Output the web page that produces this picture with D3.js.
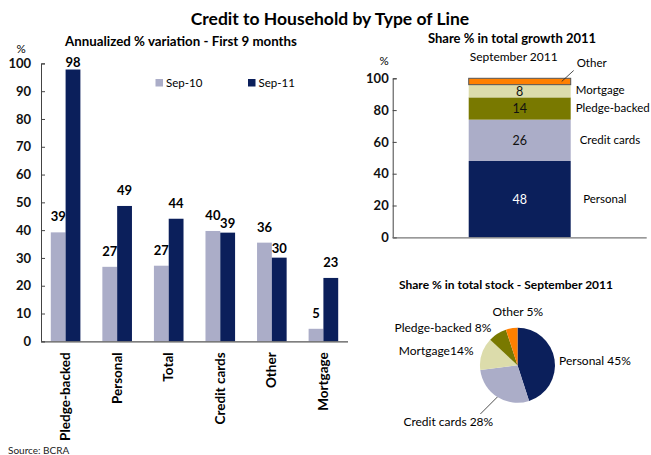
<!DOCTYPE html>
<html>
<head>
<meta charset="utf-8">
<script src="https://cdn.jsdelivr.net/npm/d3@7"></script>
<style>
  html, body { margin: 0; padding: 0; background: #fff; }
  svg { display: block; font-family: Lato, "Open Sans", sans-serif; }
  .tick line { stroke: #444; }
  .domain { stroke: #444; }
</style>
</head>
<body>
<svg id="chart" width="651" height="455"></svg>
<script>
// ---- data ----
const categories = ["Pledge-backed", "Personal", "Total", "Credit cards", "Other", "Mortgage"];
const seriesNames = ["Sep-10", "Sep-11"];
const sep10 = [39.2, 26.8, 27.2, 39.7, 35.5, 4.5];
const sep11 = [97.8, 48.7, 44.1, 39.1, 30.1, 22.8];
const barTicks = [0, 10, 20, 30, 40, 50, 60, 70, 80, 90, 100];

const growthKeys = ["Personal", "Credit cards", "Pledge-backed", "Mortgage", "Other"];
const growthShares = [48, 26, 14, 8, 4];
const growthTicks = [0, 20, 40, 60, 80, 100];

const stockKeys = ["Personal", "Credit cards", "Mortgage", "Pledge-backed", "Other"];
const stockShares = [45, 28, 14, 8, 5];

// ---- colours ----
const seriesColor = { "Sep-10": "#abadc8", "Sep-11": "#0b1f5b" };
const lineColor = {
  "Personal": "#0b1f5b",
  "Credit cards": "#abadc8",
  "Pledge-backed": "#797900",
  "Mortgage": "#dcdcab",
  "Other": "#ff8000"
};

const svg = d3.select("#chart");
const fmt = d3.format(".0f");

// main title
svg.append("text")
  .attr("x", 330).attr("y", 25)
  .attr("text-anchor", "middle")
  .attr("font-size", 17.5).attr("font-weight", 700)
  .text("Credit to Household by Type of Line");

// ================= left: grouped bars =================
const L = { left: 41, right: 348, top: 63.4, bottom: 341.3 };
const x0 = d3.scaleBand().domain(categories).range([L.left, L.right])
  .paddingInner(0.426).paddingOuter(0.19);
const x1 = d3.scaleBand().domain(seriesNames).range([0, x0.bandwidth()]);
const yL = d3.scaleLinear().domain([0, 100]).range([L.bottom, L.top]);

const left = svg.append("g");

left.append("text")
  .attr("x", 181).attr("y", 46)
  .attr("text-anchor", "middle")
  .attr("font-size", 13.3).attr("font-weight", 700)
  .text("Annualized % variation - First 9 months");

left.append("text")
  .attr("x", 21).attr("y", 53)
  .attr("text-anchor", "middle")
  .attr("font-size", 11.5)
  .text("%");

const yAxisL = left.append("g")
  .attr("transform", `translate(${L.left},0)`)
  .call(d3.axisLeft(yL).tickValues(barTicks).tickSizeInner(-4).tickSizeOuter(-4).tickPadding(10));
yAxisL.selectAll("text").attr("font-size", 13).attr("font-weight", 700).attr("fill", "#111")
  .style("font-family", "Lato, sans-serif");

const rows = categories.map((c, i) => ({ cat: c, values: [
  { key: "Sep-10", value: sep10[i] },
  { key: "Sep-11", value: sep11[i] }
]}));

const groups = left.selectAll("g.grp").data(rows).join("g")
  .attr("class", "grp")
  .attr("transform", d => `translate(${x0(d.cat)},0)`);

groups.selectAll("rect").data(d => d.values).join("rect")
  .attr("x", d => x1(d.key))
  .attr("width", x1.bandwidth())
  .attr("y", d => yL(d.value))
  .attr("height", d => yL(0) - yL(d.value))
  .attr("fill", d => seriesColor[d.key]);

// value labels; the darker bar's label drops lower when it sits beside a taller light bar
groups.selectAll("text.val").data(d => d.values.map(v => ({ ...v, other: d.values })))
  .join("text")
  .attr("class", "val")
  .attr("x", d => x1(d.key) + x1.bandwidth() / 2)
  .attr("y", d => {
    const lower = d.key === "Sep-11" && d.value < d.other[0].value;
    return Math.max(yL(d.value) - (lower ? 5 : 11), yL(100) + 4);
  })
  .attr("text-anchor", "middle")
  .attr("font-size", 13).attr("font-weight", 700)
  .text(d => fmt(d.value));

// baseline
left.append("line")
  .attr("x1", L.left).attr("x2", L.right)
  .attr("y1", yL(0) + 0.5).attr("y2", yL(0) + 0.5)
  .attr("stroke", "#555").attr("stroke-width", 1.2);

// category labels (vertical)
left.selectAll("text.cat").data(categories).join("text")
  .attr("class", "cat")
  .attr("transform", d => `translate(${x0(d) + x0.bandwidth() / 2 + 4.5},${L.bottom + 11}) rotate(-90)`)
  .attr("text-anchor", "end")
  .attr("font-size", 13.5).attr("font-weight", 700)
  .text(d => d);

// legend
const legend = left.selectAll("g.leg").data(seriesNames).join("g")
  .attr("class", "leg")
  .attr("transform", (d, i) => `translate(${155.5 + i * 92.5},79)`);
legend.append("rect").attr("width", 7.5).attr("height", 7.5).attr("fill", d => seriesColor[d]);
legend.append("text").attr("x", 10.5).attr("y", 7.5).attr("font-size", 11.5).text(d => d);

// source
svg.append("text").attr("x", 8).attr("y", 454).attr("font-size", 10).attr("fill", "#222")
  .text("Source: BCRA");

// ================= right top: stacked share bar =================
const R = { left: 392.7, right: 646.7, top: 78.3, bottom: 237.3 };
const xR = d3.scaleBand().domain(["September 2011"]).range([R.left, R.right]).padding(0.427);
const yR = d3.scaleLinear().domain([0, 100]).range([R.bottom, R.top]);

const right = svg.append("g");

right.append("text")
  .attr("x", 512).attr("y", 43)
  .attr("text-anchor", "middle")
  .attr("font-size", 13).attr("font-weight", 700)
  .text("Share % in total growth 2011");

right.append("text")
  .attr("x", 384).attr("y", 65)
  .attr("text-anchor", "middle")
  .attr("font-size", 11.5)
  .text("%");

right.append("text")
  .attr("x", xR("September 2011") + xR.bandwidth() / 2 - 6).attr("y", 61)
  .attr("text-anchor", "middle")
  .attr("font-size", 12)
  .text("September 2011");

const yAxisR = right.append("g")
  .attr("transform", `translate(${R.left},0)`)
  .call(d3.axisLeft(yR).tickValues(growthTicks).tickSizeInner(-4).tickSizeOuter(-4).tickPadding(4));
yAxisR.selectAll("text").attr("font-size", 13).attr("font-weight", 700).attr("fill", "#111")
  .style("font-family", "Lato, sans-serif");

const growthRow = {};
growthKeys.forEach((k, i) => growthRow[k] = growthShares[i]);
const stacked = d3.stack().keys(growthKeys)([growthRow]);

const bx = xR("September 2011"), bw = xR.bandwidth();
right.selectAll("rect.seg").data(stacked).join("rect")
  .attr("class", "seg")
  .attr("x", bx)
  .attr("width", bw)
  .attr("y", d => yR(d[0][1]))
  .attr("height", d => yR(d[0][0]) - yR(d[0][1]))
  .attr("fill", d => lineColor[d.key])
  .attr("stroke", d => d.key === "Other" ? "#555" : "none")
  .attr("stroke-width", 1);

// numbers inside the segments
right.selectAll("text.segval").data(stacked.filter(d => d.key !== "Other")).join("text")
  .attr("class", "segval")
  .attr("x", bx + bw / 2)
  .attr("y", d => yR((d[0][0] + d[0][1]) / 2))
  .attr("dy", "0.36em")
  .attr("text-anchor", "middle")
  .attr("font-size", 12.5)
  .attr("fill", d => d.key === "Personal" ? "#fff" : "#111")
  .text(d => fmt(d[0][1] - d[0][0]));

// series names to the right of the bar
right.selectAll("text.segname").data(stacked.filter(d => d.key !== "Other")).join("text")
  .attr("class", "segname")
  .attr("x", d => bx + bw + (d.key === "Personal" ? 12.5 : d.key === "Credit cards" ? 9 : 5))
  .attr("y", d => yR((d[0][0] + d[0][1]) / 2))
  .attr("dy", "0.3em")
  .attr("font-size", 11.5)
  .text(d => d.key);

const otherSeg = stacked.find(d => d.key === "Other");
const oy = yR((otherSeg[0][0] + otherSeg[0][1]) / 2);
right.append("line")
  .attr("x1", bx + bw - 9).attr("y1", oy)
  .attr("x2", bx + bw + 3).attr("y2", oy - 11)
  .attr("stroke", "#222").attr("stroke-width", 0.8);
right.append("text")
  .attr("x", bx + bw + 6).attr("y", oy - 14)
  .attr("font-size", 11.5)
  .text("Other");

// baseline
right.append("line")
  .attr("x1", R.left).attr("x2", R.right)
  .attr("y1", yR(0) + 0.5).attr("y2", yR(0) + 0.5)
  .attr("stroke", "#777").attr("stroke-width", 1.2);

// ================= right bottom: stock pie =================
const P = { cx: 517.5, cy: 365.3, r: 37.5 };
const pieG = svg.append("g").attr("transform", `translate(${P.cx},${P.cy})`);

svg.append("text")
  .attr("x", 506).attr("y", 289)
  .attr("text-anchor", "middle")
  .attr("font-size", 12).attr("font-weight", 700)
  .text("Share % in total stock - September 2011");

const slices = d3.pie().sort(null).value(d => d.value)(
  stockKeys.map((k, i) => ({ key: k, value: stockShares[i] })));
const arc = d3.arc().innerRadius(0).outerRadius(P.r);
const outer = d3.arc().innerRadius(P.r * 1.15).outerRadius(P.r * 1.15);

pieG.selectAll("path").data(slices).join("path")
  .attr("d", arc)
  .attr("fill", d => lineColor[d.data.key]);

const pieLabel = d => d.data.key === "Mortgage"
  ? `${d.data.key}${d.data.value}%` : `${d.data.key} ${d.data.value}%`;

slices.forEach(d => {
  const [px, py] = outer.centroid(d);
  const mid = (d.startAngle + d.endAngle) / 2;
  const t = pieG.append("text").attr("font-size", 12).text(pieLabel(d));
  if (d.data.key === "Credit cards") {
    // leader from the rim of the slice down to the label
    const sx = P.r * Math.sin(mid), sy = -P.r * Math.cos(mid);
    pieG.append("line")
      .attr("x1", sx).attr("y1", sy)
      .attr("x2", sx - 17).attr("y2", sy + 17)
      .attr("stroke", "#222").attr("stroke-width", 0.8);
    t.attr("x", sx - 94).attr("y", sy + 29);
  } else if (d.data.key === "Other") {
    t.attr("x", px + 7).attr("y", py - 7).attr("text-anchor", "middle");
  } else if (mid < Math.PI) {
    t.attr("x", px - 1).attr("y", py + 6).attr("text-anchor", "start");
  } else {
    t.attr("x", px - 3).attr("y", py + 3).attr("text-anchor", "end");
  }
});
</script>
</body>
</html>
